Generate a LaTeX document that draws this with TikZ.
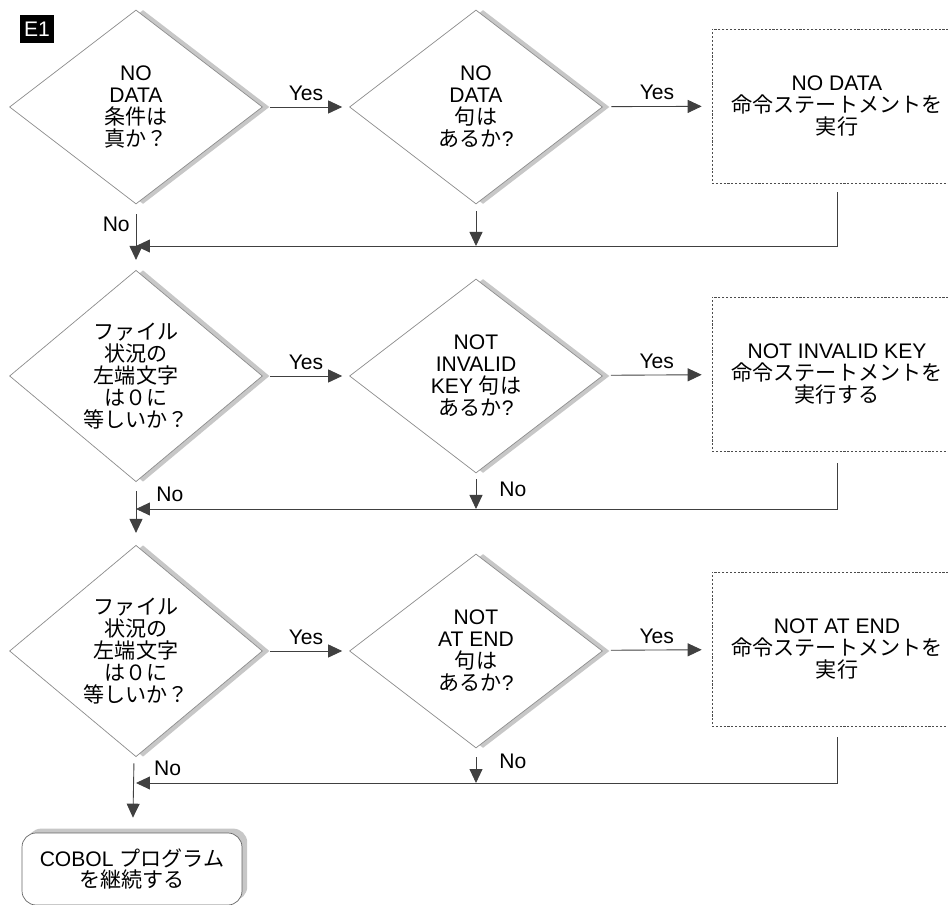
\documentclass[tikz,border=0pt]{standalone}
\usepackage{fontspec}
\setmainfont{Liberation Sans}
\newfontfamily\jpfont{Noto Sans CJK JP}
\usetikzlibrary{shapes.geometric,arrows.meta,shadows}
\newcommand{\jp}[1]{{\jpfont #1}}

\tikzset{
  decision/.style={diamond, draw=black!45, fill=white, inner sep=0pt,
    minimum width=5.06cm, minimum height=3.88cm, align=center,
    general shadow={fill=black!22, shadow xshift=4pt}},
  action/.style={draw=black!70, dash pattern=on 1.2pt off 1pt,
    minimum width=5cm, minimum height=3.08cm, align=center},
  stopbox/.style={draw=black!60, fill=white, rounded corners=8pt,
    minimum width=4.4cm, minimum height=1.44cm, align=center,
    general shadow={fill=black!22, shadow xshift=3pt, shadow yshift=2.5pt}},
  conn/.style={draw=black!75, line width=0.5pt,
    -{Triangle[length=0.28cm,width=0.26cm]}},
  tagbox/.style={fill=black, text=white, inner sep=0pt,
    minimum width=0.68cm, minimum height=0.56cm}
}

\begin{document}
\begin{tikzpicture}[x=0.02cm,y=-0.02cm,
  every node/.style={font=\fontsize{12}{12.5}\selectfont}]
\useasboundingbox (0,0) rectangle (948,905);
\clip (0,0) rectangle (948,905);

\node[tagbox] (tag) at (37,29) {E1};

% first row
\node[decision] (d1) at (136,107) {NO\\DATA\\\jp{条件は}\\\jp{真か？}};
\node[decision] (d2) at (476,107) {NO\\DATA\\\jp{句は}\\\jp{あるか}?};
\node[action] (b1) at (837,106) {NO DATA\\\jp{命令ステートメントを}\\\jp{実行}};

% second row
\node[decision] (d3) at (136,376) {\jp{ファイル}\\\jp{状況の}\\\jp{左端文字}\\\jp{は０に}\\\jp{等しいか？}};
\node[decision] (d4) at (476,376) {NOT\\INVALID\\KEY \jp{句は}\\\jp{あるか}?};
\node[action] (b2) at (837,374) {NOT INVALID KEY\\\jp{命令ステートメントを}\\\jp{実行する}};

% third row
\node[decision] (d5) at (136,651) {\jp{ファイル}\\\jp{状況の}\\\jp{左端文字}\\\jp{は０に}\\\jp{等しいか？}};
\node[decision] (d6) at (476,651) {NOT\\AT END\\\jp{句は}\\\jp{あるか}?};
\node[action] (b3) at (837,649) {NOT AT END\\\jp{命令ステートメントを}\\\jp{実行}};

\node[stopbox] (done) at (132,869) {COBOL \jp{プログラム}\\\jp{を継続する}};

\coordinate (m1) at (136,246);
\coordinate (m2) at (136,509);
\coordinate (m3) at (136,783);

% yes branches
\draw[conn, shorten <=0.14cm, shorten >=0.14cm] (d1) -- node[above] {Yes} (d2);
\draw[conn, shorten <=0.18cm, shorten >=0.2cm] (d2) -- node[above] {Yes} (b1);
\draw[conn, shorten <=0.14cm, shorten >=0.14cm] (d3) -- node[above] {Yes} (d4);
\draw[conn, shorten <=0.18cm, shorten >=0.2cm] (d4) -- node[above] {Yes} (b2);
\draw[conn, shorten <=0.14cm, shorten >=0.14cm] (d5) -- node[above] {Yes} (d6);
\draw[conn, shorten <=0.18cm, shorten >=0.2cm] (d6) -- node[above] {Yes} (b3);

% back to the main line
\draw[conn, shorten <=0.18cm] (b1.south) |- (m1);
\draw[conn, shorten <=0.14cm] (d2.south) -- (d2.south |- m1);
\draw[conn, shorten <=0.2cm, shorten >=0.2cm] (d1) -- node[pos=0.3, left] {No} (d3);

\draw[conn, shorten <=0.24cm] (b2.south) |- (m2);
\draw[conn, shorten <=0.12cm] (d4.south) -- node[pos=0.45, right, xshift=0.34cm] {No} (d4.south |- m2);
\draw[conn, shorten <=0.18cm, shorten >=0.24cm] (d3) -- node[pos=0.19, right, xshift=0.28cm] {No} (d5);

\draw[conn, shorten <=0.22cm] (b3.south) |- (m3);
\draw[conn, shorten <=0.18cm] (d6.south) -- node[pos=0.38, right, xshift=0.34cm] {No} (d6.south |- m3);
\draw[conn, shorten <=0.16cm, shorten >=0.3cm] (d5) -- node[pos=0.17, right, xshift=0.28cm] {No} (done);
\end{tikzpicture}
\end{document}
